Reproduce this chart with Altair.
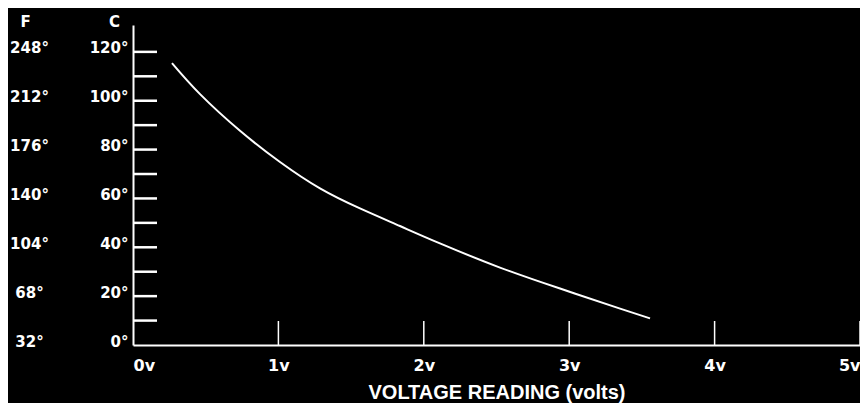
import altair as alt
import pandas as pd

# curve
volts = [0.268, 0.461, 0.736, 1.011, 1.286, 1.561, 1.836, 2.111, 2.524, 2.937, 3.350, 3.556]
temp_c = [115.4, 102.7, 87.7, 74.9, 64.1, 55.9, 48.7, 41.6, 31.7, 23.1, 14.9, 10.9]

# axis labels
c_ticks = [0, 20, 40, 60, 80, 100, 120]
f_labels = ["32°", "68°", "104°", "140°", "176°", "212°", "248°"]
c_minor = [10, 20, 30, 40, 50, 60, 70, 80, 90, 100, 110, 120]
volt_ticks = [0, 1, 2, 3, 4, 5]
volt_marks = [1, 2, 3, 4, 5]

W, H = 727, 320
Y_DOM = [0, 131]
LABEL_FONT = "DejaVu Sans"

curve = pd.DataFrame({"v": volts, "c": temp_c})
minor = pd.DataFrame({"c": c_minor})
vmarks = pd.DataFrame({"v": volt_marks})

f_expr = "{" + ",".join(f"'{c}':'{f}'" for c, f in zip(c_ticks, f_labels)) + "}[datum.value]"

x_axis = alt.Axis(
    values=volt_ticks, labelExpr="datum.value + 'v'", ticks=False, tickSize=0,
    grid=False, domainColor="white", domainWidth=2, labelColor="white",
    labelFont=LABEL_FONT, labelFontWeight="bold", labelFontSize=16,
    labelPadding=12, labelBaseline="top",
    title="VOLTAGE READING (volts)", titleColor="white", titleFont="Liberation Sans",
    titleFontWeight="bold", titleFontSize=20, titleY=47, titleBaseline="middle",
)
x_scale = alt.Scale(domain=[0, 5], nice=False)
y_scale = alt.Scale(domain=Y_DOM, nice=False)

c_axis = alt.Axis(
    values=c_ticks, labelExpr="datum.value + '°'", ticks=False, tickSize=0,
    grid=False, domainColor="white", domainWidth=2, labelColor="white",
    labelFont=LABEL_FONT, labelFontWeight="bold", labelFontSize=15,
    labelPadding=5, labelOffset=-4,
    title="C", titleAngle=0, titleColor="white", titleFont=LABEL_FONT,
    titleFontWeight="bold", titleFontSize=15, titleX=-19, titleY=-4,
    titleAlign="center", titleBaseline="middle",
)
f_axis = alt.Axis(
    orient="left", values=c_ticks, labelExpr=f_expr, ticks=False, tickSize=0,
    grid=False, domain=False, labelColor="white",
    labelFont=LABEL_FONT, labelFontWeight="bold", labelFontSize=15,
    labelPadding=104, labelAlign="center", labelOffset=-4,
    title="F", titleAngle=0, titleColor="white", titleFont=LABEL_FONT,
    titleFontWeight="bold", titleFontSize=15, titleX=-108, titleY=-4,
    titleAlign="center", titleBaseline="middle",
)

line = alt.Chart(curve).mark_line(color="white", strokeWidth=2, interpolate="natural").encode(
    x=alt.X("v:Q", scale=x_scale, axis=x_axis),
    y=alt.Y("c:Q", scale=y_scale, axis=c_axis),
)

y_ticks = alt.Chart(minor).mark_rule(color="white", strokeWidth=2.5).encode(
    y=alt.Y("c:Q", scale=y_scale, axis=f_axis),
    x=alt.value(0), x2=alt.value(24),
)

x_ticks = alt.Chart(vmarks).mark_rule(color="white", strokeWidth=1.5).encode(
    x=alt.X("v:Q", scale=x_scale, axis=x_axis),
    y=alt.value(H), y2=alt.value(H - 24),
)

chart = alt.layer(line, y_ticks, x_ticks).resolve_axis(y="independent").properties(
    width=W, height=H,
    autosize=alt.AutoSizeParams(type="none"),
    padding={"left": 125, "top": 17, "right": 0, "bottom": 58},
    background="black",
).configure_view(stroke=None)

chart.save("out.html", embed_options={"renderer": "svg", "actions": False})
